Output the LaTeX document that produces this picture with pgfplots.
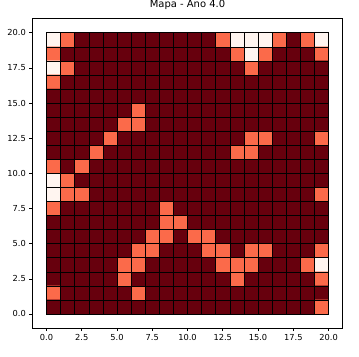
\documentclass[border=0pt]{standalone}
\usepackage{fontspec}
\setmainfont{DejaVu Sans}
\usepackage{pgfplots}
\pgfplotsset{compat=1.18}
\definecolor{cdark}{HTML}{67000D}
\definecolor{ccoral}{HTML}{FB6A4A}
\definecolor{cwhite}{HTML}{FFF5F0}
\begin{document}
\begin{tikzpicture}
\begin{axis}[
  name=ax,
  scale only axis,
  width=310bp, height=309bp,
  xmin=-1, xmax=21, ymin=-1, ymax=21,
  xtick={0,2.5,...,20}, ytick={0,2.5,...,20},
  tick pos=left, tick align=outside,
  major tick length=3bp,
  axis line style={line width=0.6bp, black},
  every tick/.style={black, line width=0.6bp},
  /pgf/number format/assume math mode=true,
  /pgf/number format/.cd, fixed, fixed zerofill, precision=1, /pgfplots/.cd,
  tick label style={font=\fontsize{8.3}{10}\selectfont},
  title={Mapa - Ano 4.0},
  title style={font=\fontsize{10}{12}\selectfont, at={(0.5,1)}, anchor=base, yshift=5.3bp, inner sep=0pt},
  colormap={reds}{color=(cdark) color=(ccoral) color=(cwhite)},
  point meta min=0, point meta max=2,
]
\addplot[matrix plot*, mesh/cols=20, point meta=explicit, draw=none] coordinates {
(0.5,19.5)[2] (1.5,19.5)[1] (2.5,19.5)[0] (3.5,19.5)[0] (4.5,19.5)[0] (5.5,19.5)[0] (6.5,19.5)[0] (7.5,19.5)[0] (8.5,19.5)[0] (9.5,19.5)[0] (10.5,19.5)[0] (11.5,19.5)[0] (12.5,19.5)[1] (13.5,19.5)[2] (14.5,19.5)[2] (15.5,19.5)[2] (16.5,19.5)[1] (17.5,19.5)[0] (18.5,19.5)[1] (19.5,19.5)[2]
(0.5,18.5)[1] (1.5,18.5)[0] (2.5,18.5)[0] (3.5,18.5)[0] (4.5,18.5)[0] (5.5,18.5)[0] (6.5,18.5)[0] (7.5,18.5)[0] (8.5,18.5)[0] (9.5,18.5)[0] (10.5,18.5)[0] (11.5,18.5)[0] (12.5,18.5)[0] (13.5,18.5)[1] (14.5,18.5)[2] (15.5,18.5)[1] (16.5,18.5)[0] (17.5,18.5)[0] (18.5,18.5)[0] (19.5,18.5)[1]
(0.5,17.5)[2] (1.5,17.5)[1] (2.5,17.5)[0] (3.5,17.5)[0] (4.5,17.5)[0] (5.5,17.5)[0] (6.5,17.5)[0] (7.5,17.5)[0] (8.5,17.5)[0] (9.5,17.5)[0] (10.5,17.5)[0] (11.5,17.5)[0] (12.5,17.5)[0] (13.5,17.5)[0] (14.5,17.5)[1] (15.5,17.5)[0] (16.5,17.5)[0] (17.5,17.5)[0] (18.5,17.5)[0] (19.5,17.5)[0]
(0.5,16.5)[1] (1.5,16.5)[0] (2.5,16.5)[0] (3.5,16.5)[0] (4.5,16.5)[0] (5.5,16.5)[0] (6.5,16.5)[0] (7.5,16.5)[0] (8.5,16.5)[0] (9.5,16.5)[0] (10.5,16.5)[0] (11.5,16.5)[0] (12.5,16.5)[0] (13.5,16.5)[0] (14.5,16.5)[0] (15.5,16.5)[0] (16.5,16.5)[0] (17.5,16.5)[0] (18.5,16.5)[0] (19.5,16.5)[0]
(0.5,15.5)[0] (1.5,15.5)[0] (2.5,15.5)[0] (3.5,15.5)[0] (4.5,15.5)[0] (5.5,15.5)[0] (6.5,15.5)[0] (7.5,15.5)[0] (8.5,15.5)[0] (9.5,15.5)[0] (10.5,15.5)[0] (11.5,15.5)[0] (12.5,15.5)[0] (13.5,15.5)[0] (14.5,15.5)[0] (15.5,15.5)[0] (16.5,15.5)[0] (17.5,15.5)[0] (18.5,15.5)[0] (19.5,15.5)[0]
(0.5,14.5)[0] (1.5,14.5)[0] (2.5,14.5)[0] (3.5,14.5)[0] (4.5,14.5)[0] (5.5,14.5)[0] (6.5,14.5)[1] (7.5,14.5)[0] (8.5,14.5)[0] (9.5,14.5)[0] (10.5,14.5)[0] (11.5,14.5)[0] (12.5,14.5)[0] (13.5,14.5)[0] (14.5,14.5)[0] (15.5,14.5)[0] (16.5,14.5)[0] (17.5,14.5)[0] (18.5,14.5)[0] (19.5,14.5)[0]
(0.5,13.5)[0] (1.5,13.5)[0] (2.5,13.5)[0] (3.5,13.5)[0] (4.5,13.5)[0] (5.5,13.5)[1] (6.5,13.5)[1] (7.5,13.5)[0] (8.5,13.5)[0] (9.5,13.5)[0] (10.5,13.5)[0] (11.5,13.5)[0] (12.5,13.5)[0] (13.5,13.5)[0] (14.5,13.5)[0] (15.5,13.5)[0] (16.5,13.5)[0] (17.5,13.5)[0] (18.5,13.5)[0] (19.5,13.5)[0]
(0.5,12.5)[0] (1.5,12.5)[0] (2.5,12.5)[0] (3.5,12.5)[0] (4.5,12.5)[1] (5.5,12.5)[0] (6.5,12.5)[0] (7.5,12.5)[0] (8.5,12.5)[0] (9.5,12.5)[0] (10.5,12.5)[0] (11.5,12.5)[0] (12.5,12.5)[0] (13.5,12.5)[0] (14.5,12.5)[1] (15.5,12.5)[1] (16.5,12.5)[0] (17.5,12.5)[0] (18.5,12.5)[0] (19.5,12.5)[1]
(0.5,11.5)[0] (1.5,11.5)[0] (2.5,11.5)[0] (3.5,11.5)[1] (4.5,11.5)[0] (5.5,11.5)[0] (6.5,11.5)[0] (7.5,11.5)[0] (8.5,11.5)[0] (9.5,11.5)[0] (10.5,11.5)[0] (11.5,11.5)[0] (12.5,11.5)[0] (13.5,11.5)[1] (14.5,11.5)[1] (15.5,11.5)[0] (16.5,11.5)[0] (17.5,11.5)[0] (18.5,11.5)[0] (19.5,11.5)[0]
(0.5,10.5)[1] (1.5,10.5)[0] (2.5,10.5)[1] (3.5,10.5)[0] (4.5,10.5)[0] (5.5,10.5)[0] (6.5,10.5)[0] (7.5,10.5)[0] (8.5,10.5)[0] (9.5,10.5)[0] (10.5,10.5)[0] (11.5,10.5)[0] (12.5,10.5)[0] (13.5,10.5)[0] (14.5,10.5)[0] (15.5,10.5)[0] (16.5,10.5)[0] (17.5,10.5)[0] (18.5,10.5)[0] (19.5,10.5)[0]
(0.5,9.5)[2] (1.5,9.5)[1] (2.5,9.5)[0] (3.5,9.5)[0] (4.5,9.5)[0] (5.5,9.5)[0] (6.5,9.5)[0] (7.5,9.5)[0] (8.5,9.5)[0] (9.5,9.5)[0] (10.5,9.5)[0] (11.5,9.5)[0] (12.5,9.5)[0] (13.5,9.5)[0] (14.5,9.5)[0] (15.5,9.5)[0] (16.5,9.5)[0] (17.5,9.5)[0] (18.5,9.5)[0] (19.5,9.5)[0]
(0.5,8.5)[2] (1.5,8.5)[1] (2.5,8.5)[1] (3.5,8.5)[0] (4.5,8.5)[0] (5.5,8.5)[0] (6.5,8.5)[0] (7.5,8.5)[0] (8.5,8.5)[0] (9.5,8.5)[0] (10.5,8.5)[0] (11.5,8.5)[0] (12.5,8.5)[0] (13.5,8.5)[0] (14.5,8.5)[0] (15.5,8.5)[0] (16.5,8.5)[0] (17.5,8.5)[0] (18.5,8.5)[0] (19.5,8.5)[1]
(0.5,7.5)[1] (1.5,7.5)[0] (2.5,7.5)[0] (3.5,7.5)[0] (4.5,7.5)[0] (5.5,7.5)[0] (6.5,7.5)[0] (7.5,7.5)[0] (8.5,7.5)[1] (9.5,7.5)[0] (10.5,7.5)[0] (11.5,7.5)[0] (12.5,7.5)[0] (13.5,7.5)[0] (14.5,7.5)[0] (15.5,7.5)[0] (16.5,7.5)[0] (17.5,7.5)[0] (18.5,7.5)[0] (19.5,7.5)[0]
(0.5,6.5)[0] (1.5,6.5)[0] (2.5,6.5)[0] (3.5,6.5)[0] (4.5,6.5)[0] (5.5,6.5)[0] (6.5,6.5)[0] (7.5,6.5)[0] (8.5,6.5)[1] (9.5,6.5)[1] (10.5,6.5)[0] (11.5,6.5)[0] (12.5,6.5)[0] (13.5,6.5)[0] (14.5,6.5)[0] (15.5,6.5)[0] (16.5,6.5)[0] (17.5,6.5)[0] (18.5,6.5)[0] (19.5,6.5)[0]
(0.5,5.5)[0] (1.5,5.5)[0] (2.5,5.5)[0] (3.5,5.5)[0] (4.5,5.5)[0] (5.5,5.5)[0] (6.5,5.5)[0] (7.5,5.5)[1] (8.5,5.5)[1] (9.5,5.5)[0] (10.5,5.5)[1] (11.5,5.5)[1] (12.5,5.5)[0] (13.5,5.5)[0] (14.5,5.5)[0] (15.5,5.5)[0] (16.5,5.5)[0] (17.5,5.5)[0] (18.5,5.5)[0] (19.5,5.5)[0]
(0.5,4.5)[0] (1.5,4.5)[0] (2.5,4.5)[0] (3.5,4.5)[0] (4.5,4.5)[0] (5.5,4.5)[0] (6.5,4.5)[1] (7.5,4.5)[1] (8.5,4.5)[0] (9.5,4.5)[0] (10.5,4.5)[0] (11.5,4.5)[1] (12.5,4.5)[1] (13.5,4.5)[0] (14.5,4.5)[1] (15.5,4.5)[1] (16.5,4.5)[0] (17.5,4.5)[0] (18.5,4.5)[0] (19.5,4.5)[1]
(0.5,3.5)[0] (1.5,3.5)[0] (2.5,3.5)[0] (3.5,3.5)[0] (4.5,3.5)[0] (5.5,3.5)[1] (6.5,3.5)[1] (7.5,3.5)[0] (8.5,3.5)[0] (9.5,3.5)[0] (10.5,3.5)[0] (11.5,3.5)[0] (12.5,3.5)[1] (13.5,3.5)[1] (14.5,3.5)[1] (15.5,3.5)[0] (16.5,3.5)[0] (17.5,3.5)[0] (18.5,3.5)[1] (19.5,3.5)[2]
(0.5,2.5)[0] (1.5,2.5)[0] (2.5,2.5)[0] (3.5,2.5)[0] (4.5,2.5)[0] (5.5,2.5)[1] (6.5,2.5)[0] (7.5,2.5)[0] (8.5,2.5)[0] (9.5,2.5)[0] (10.5,2.5)[0] (11.5,2.5)[0] (12.5,2.5)[0] (13.5,2.5)[1] (14.5,2.5)[0] (15.5,2.5)[0] (16.5,2.5)[0] (17.5,2.5)[0] (18.5,2.5)[0] (19.5,2.5)[1]
(0.5,1.5)[1] (1.5,1.5)[0] (2.5,1.5)[0] (3.5,1.5)[0] (4.5,1.5)[0] (5.5,1.5)[0] (6.5,1.5)[1] (7.5,1.5)[0] (8.5,1.5)[0] (9.5,1.5)[0] (10.5,1.5)[0] (11.5,1.5)[0] (12.5,1.5)[0] (13.5,1.5)[0] (14.5,1.5)[0] (15.5,1.5)[0] (16.5,1.5)[0] (17.5,1.5)[0] (18.5,1.5)[0] (19.5,1.5)[0]
(0.5,0.5)[0] (1.5,0.5)[0] (2.5,0.5)[0] (3.5,0.5)[0] (4.5,0.5)[0] (5.5,0.5)[0] (6.5,0.5)[0] (7.5,0.5)[0] (8.5,0.5)[0] (9.5,0.5)[0] (10.5,0.5)[0] (11.5,0.5)[0] (12.5,0.5)[0] (13.5,0.5)[0] (14.5,0.5)[0] (15.5,0.5)[0] (16.5,0.5)[0] (17.5,0.5)[0] (18.5,0.5)[0] (19.5,0.5)[1]
};
\pgfplotsinvokeforeach{0,...,20}{
  \draw[black, line width=0.5bp] (axis cs:#1,0) -- (axis cs:#1,20);
  \draw[black, line width=0.5bp] (axis cs:0,#1) -- (axis cs:20,#1);
}
\end{axis}
\path ([xshift=-32.3bp,yshift=-28bp]ax.south west) rectangle ([xshift=16.3bp,yshift=16bp]ax.north east);
\end{tikzpicture}
\end{document}
